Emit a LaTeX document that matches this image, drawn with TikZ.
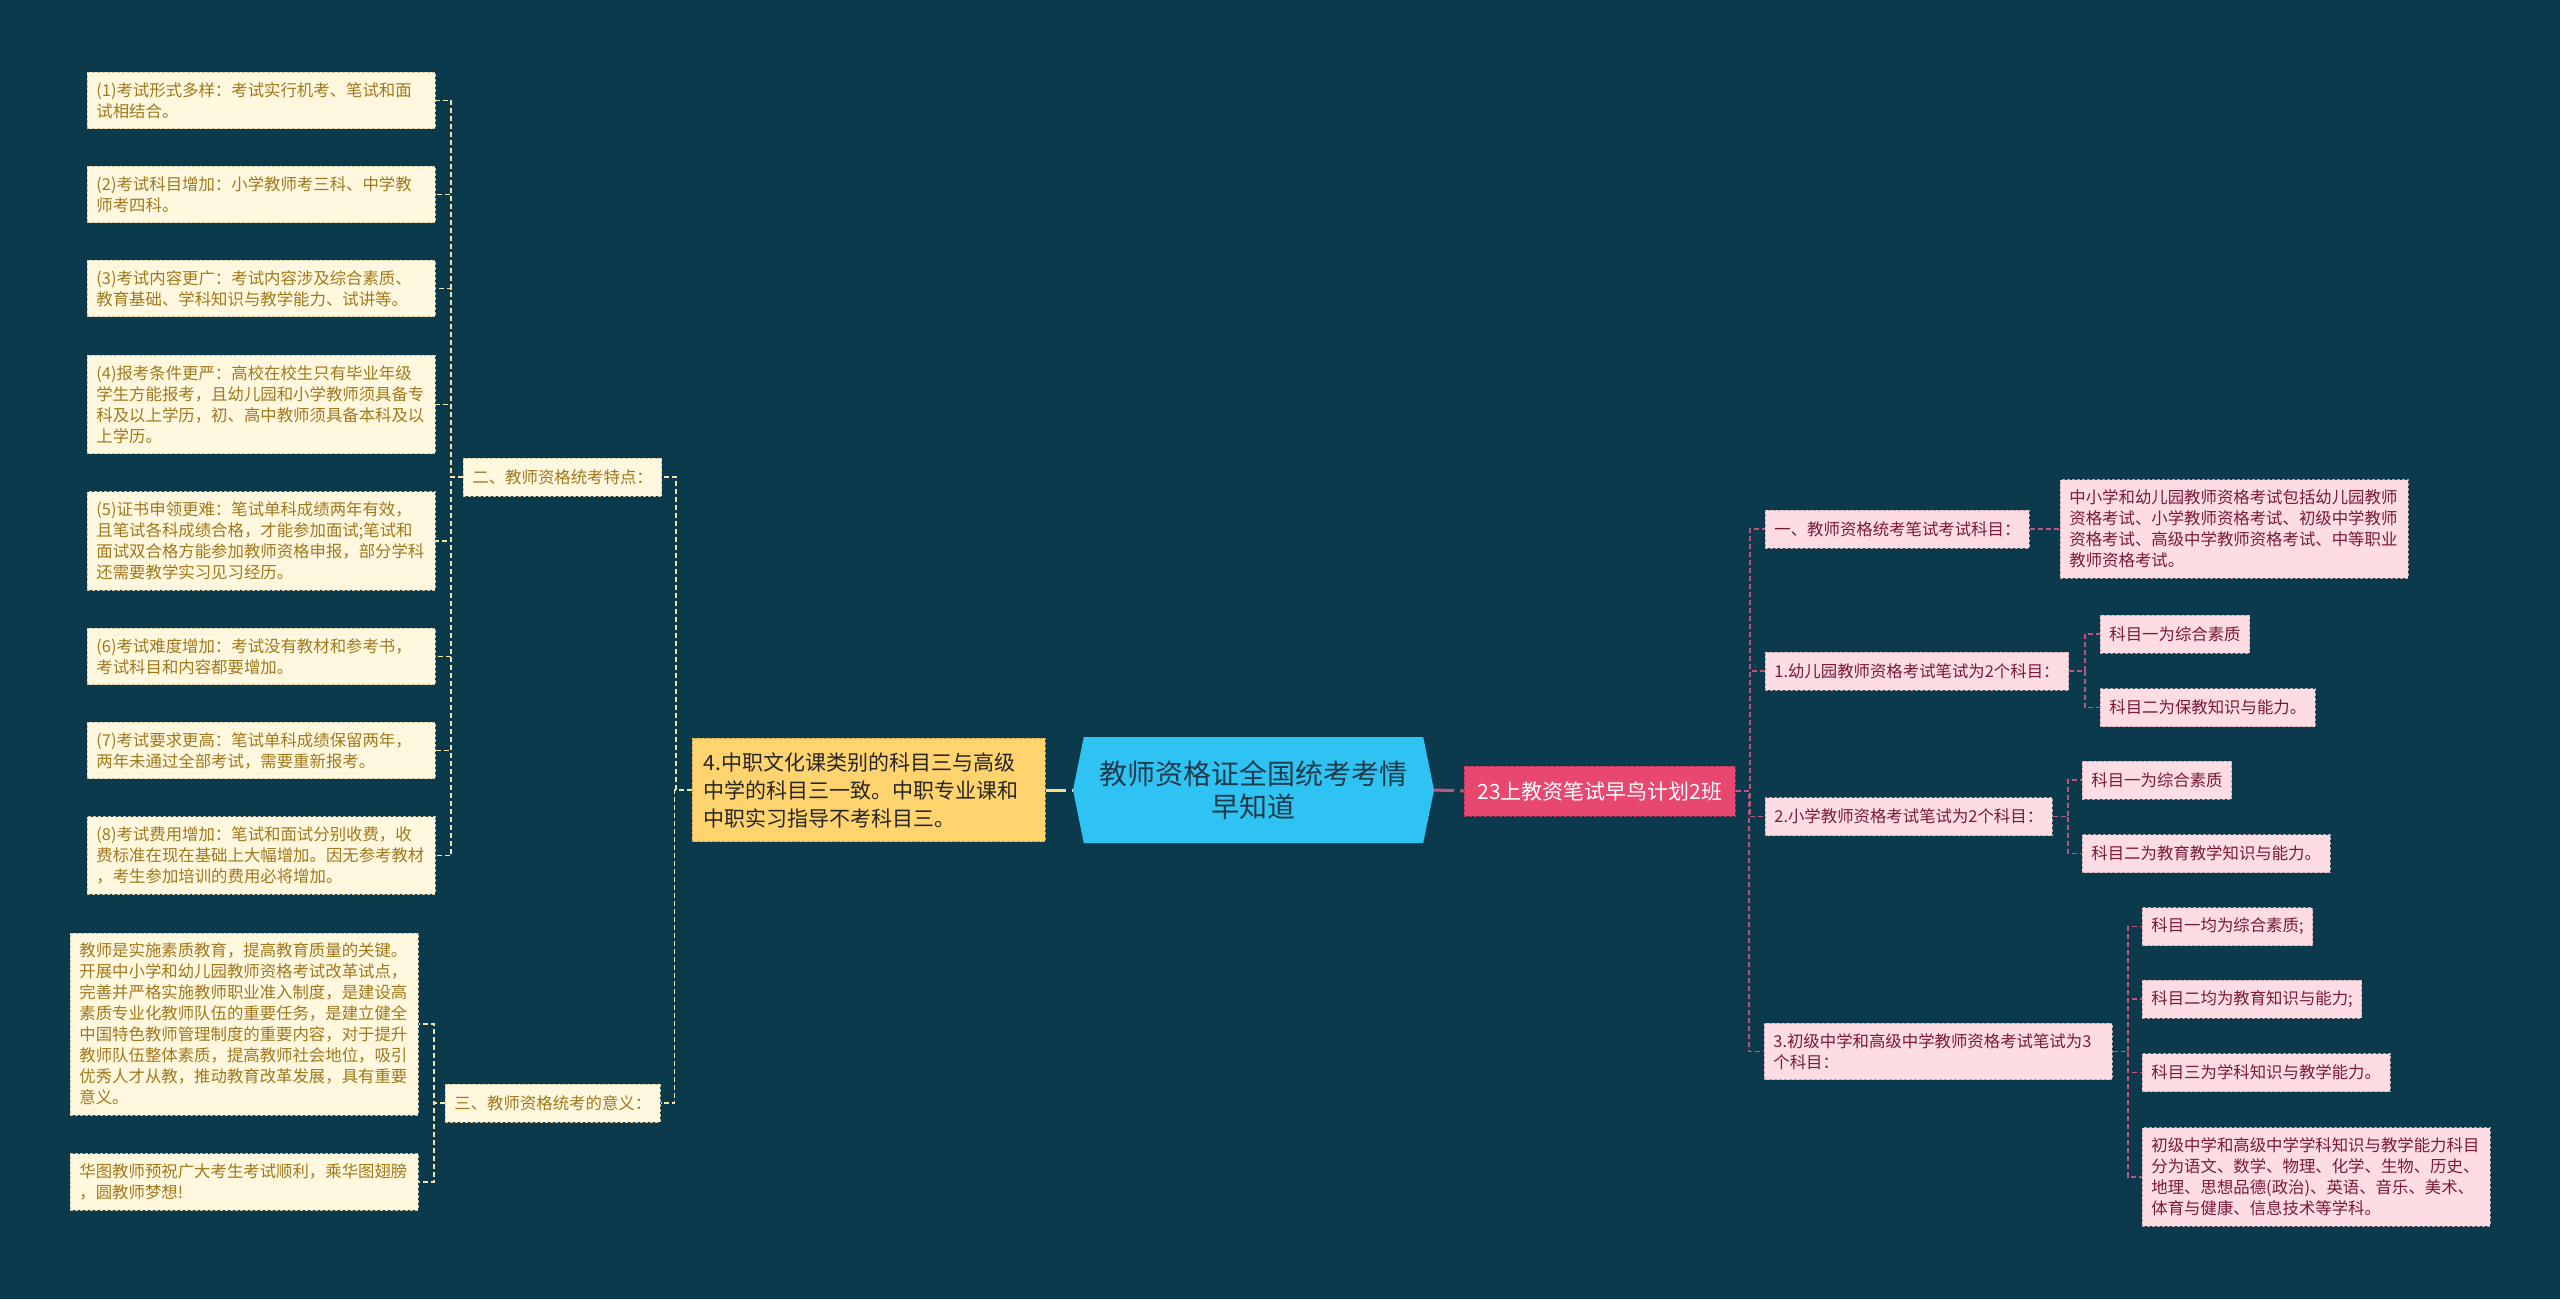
\documentclass[tikz,border=0pt]{standalone}
\usepackage{fontspec}
\setmainfont{Noto Sans CJK SC}
\usetikzlibrary{shapes.symbols}

\definecolor{bgc}{HTML}{0B3A4C}
\definecolor{creamfill}{HTML}{FFF8DE}
\definecolor{creamline}{HTML}{CFC3A0}
\definecolor{creamtext}{HTML}{A0781E}
\definecolor{creamlink}{HTML}{F3E4A8}
\definecolor{yelfill}{HTML}{FFD36E}
\definecolor{yelline}{HTML}{C9A24E}
\definecolor{yellink}{HTML}{F5DF8A}
\definecolor{rootfill}{HTML}{2EC3F2}
\definecolor{roottext}{HTML}{1D3B4C}
\definecolor{redfill}{HTML}{E8476F}
\definecolor{redline}{HTML}{B33355}
\definecolor{pinkfill}{HTML}{FDDDE3}
\definecolor{pinkline}{HTML}{BDA3AB}
\definecolor{pinktext}{HTML}{7A1A35}
\definecolor{pinklink}{HTML}{B8587E}

\begin{document}
\begin{tikzpicture}[x=1pt,y=-1pt]
  % Styles
  \tikzset{
    box/.style={dash pattern=on 3pt off 2pt, line width=0.8pt, inner xsep=9pt, inner ysep=10pt,
      align=left, anchor=west, font=\fontsize{16.4}{21}\selectfont},
    cream/.style={box, fill=creamfill, draw=creamline, text=creamtext},
    pink/.style={box, fill=pinkfill, draw=pinkline, text=pinktext},
    wide/.style={text width=330pt},
    one/.style={minimum height=38pt},
    lk/.style={draw=creamlink, line width=1.6pt, dash pattern=on 5pt off 3pt},
    rk/.style={draw=pinklink, line width=1.6pt, dash pattern=on 5pt off 3pt},
  }

  % Fond
  \fill[bgc] (0,0) rectangle (2560,1299);
  \useasboundingbox (0,0) rectangle (2560,1299);

  % Centre
  \node[signal, signal to=east and west, signal pointer angle=157, fill=rootfill, text=roottext,
    minimum width=361pt, minimum height=106pt, align=center, inner sep=0pt,
    font=\fontsize{28}{33}\selectfont] (root) at (1253.5,790) {教师资格证全国统考考情\\早知道};
  \node[box, fill=redfill, draw=redline, text=white, minimum height=50pt, inner xsep=13pt,
    font=\fontsize{21}{28}\selectfont] (plan) at (1464,791) {23上教资笔试早鸟计划2班};
  \node[box, fill=yelfill, draw=yelline, text=black!85, text width=330pt, inner xsep=11.5pt,
    inner ysep=14pt, font=\fontsize{21}{28}\selectfont] (zhong) at (692,790)
    {4.中职文化课类别的科目三与高级\\中学的科目三一致。中职专业课和\\中职实习指导不考科目三。};

  % Branche gauche :特点
  \node[cream, one] (tedian) at (463,477) {二、教师资格统考特点：};
  \node[cream, wide] (l1) at (87,100.5) {(1)考试形式多样：考试实行机考、笔试和面\\试相结合。};
  \node[cream, wide] (l2) at (87,194.5) {(2)考试科目增加：小学教师考三科、中学教\\师考四科。};
  \node[cream, wide] (l3) at (87,288.5) {(3)考试内容更广：考试内容涉及综合素质、\\教育基础、学科知识与教学能力、试讲等。};
  \node[cream, wide] (l4) at (87,404.5) {(4)报考条件更严：高校在校生只有毕业年级\\学生方能报考，且幼儿园和小学教师须具备专\\科及以上学历，初、高中教师须具备本科及以\\上学历。};
  \node[cream, wide] (l5) at (87,541) {(5)证书申领更难：笔试单科成绩两年有效，\\且笔试各科成绩合格，才能参加面试;笔试和\\面试双合格方能参加教师资格申报，部分学科\\还需要教学实习见习经历。};
  \node[cream, wide] (l6) at (87,656.5) {(6)考试难度增加：考试没有教材和参考书，\\考试科目和内容都要增加。};
  \node[cream, wide] (l7) at (87,750.5) {(7)考试要求更高：笔试单科成绩保留两年，\\两年未通过全部考试，需要重新报考。};
  \node[cream, wide] (l8) at (87,855.5) {(8)考试费用增加：笔试和面试分别收费，收\\费标准在现在基础上大幅增加。因无参考教材\\，考生参加培训的费用必将增加。};

  % Branche gauche : 意义
  \node[cream, one] (yiyi) at (445,1103) {三、教师资格统考的意义：};
  \node[cream, wide] (m1) at (70,1024) {教师是实施素质教育，提高教育质量的关键。\\开展中小学和幼儿园教师资格考试改革试点，\\完善并严格实施教师职业准入制度，是建设高\\素质专业化教师队伍的重要任务，是建立健全\\中国特色教师管理制度的重要内容，对于提升\\教师队伍整体素质，提高教师社会地位，吸引\\优秀人才从教，推动教育改革发展，具有重要\\意义。};
  \node[cream, wide] (m2) at (70,1182) {华图教师预祝广大考生考试顺利，乘华图翅膀\\，圆教师梦想!};

  % Branche droite
  \node[pink, one] (km) at (1765,529) {一、教师资格统考笔试考试科目：};
  \node[pink, wide] (kmx) at (2060,529) {中小学和幼儿园教师资格考试包括幼儿园教师\\资格考试、小学教师资格考试、初级中学教师\\资格考试、高级中学教师资格考试、中等职业\\教师资格考试。};
  \node[pink, one] (yer) at (1765,671) {1.幼儿园教师资格考试笔试为2个科目：};
  \node[pink, one] (yer1) at (2100,634) {科目一为综合素质};
  \node[pink, one] (yer2) at (2100,707.5) {科目二为保教知识与能力。};
  \node[pink, one] (xiao) at (1765,816.5) {2.小学教师资格考试笔试为2个科目：};
  \node[pink, one] (xiao1) at (2082,780) {科目一为综合素质};
  \node[pink, one] (xiao2) at (2082,853.5) {科目二为教育教学知识与能力。};
  \node[pink, wide] (zx) at (1764,1051.5) {3.初级中学和高级中学教师资格考试笔试为3\\个科目：};
  \node[pink, one] (zx1) at (2142,926.5) {科目一均为综合素质;};
  \node[pink, one] (zx2) at (2142,999) {科目二均为教育知识与能力;};
  \node[pink, one] (zx3) at (2142,1072.5) {科目三为学科知识与教学能力。};
  \node[pink, wide] (zx4) at (2142,1177) {初级中学和高级中学学科知识与教学能力科目\\分为语文、数学、物理、化学、生物、历史、\\地理、思想品德(政治)、英语、音乐、美术、\\体育与健康、信息技术等学科。};

  % Liens du centre
  \draw[yellink, line width=3pt, dash pattern=on 20pt off 6pt] (zhong.east) -- (root.west);
  \draw[pinklink, line width=3pt, dash pattern=on 20pt off 6pt] (root.east) -- (plan.west);

  % Liens gauche
  \foreach \n in {tedian, yiyi}
    \draw[lk] (zhong.west) -| ([xshift=14pt]\n.east) -- (\n.east);
  \foreach \n in {l1,l2,l3,l4,l5,l6,l7,l8}
    \draw[lk] (tedian.west) -| ([xshift=15pt]\n.east) -- (\n.east);
  \foreach \n in {m1,m2}
    \draw[lk] (yiyi.west) -| ([xshift=15pt]\n.east) -- (\n.east);

  % Liens droite
  \foreach \n in {km, yer, xiao, zx}
    \draw[rk] (plan.east) -| ([xshift=-15pt]\n.west) -- (\n.west);
  \draw[rk] (km.east) -- (kmx.west);
  \foreach \n in {yer1, yer2}
    \draw[rk] (yer.east) -| ([xshift=-15pt]\n.west) -- (\n.west);
  \foreach \n in {xiao1, xiao2}
    \draw[rk] (xiao.east) -| ([xshift=-14pt]\n.west) -- (\n.west);
  \foreach \n in {zx1, zx2, zx3, zx4}
    \draw[rk] (zx.east) -| ([xshift=-14pt]\n.west) -- (\n.west);

\end{tikzpicture}
\end{document}
